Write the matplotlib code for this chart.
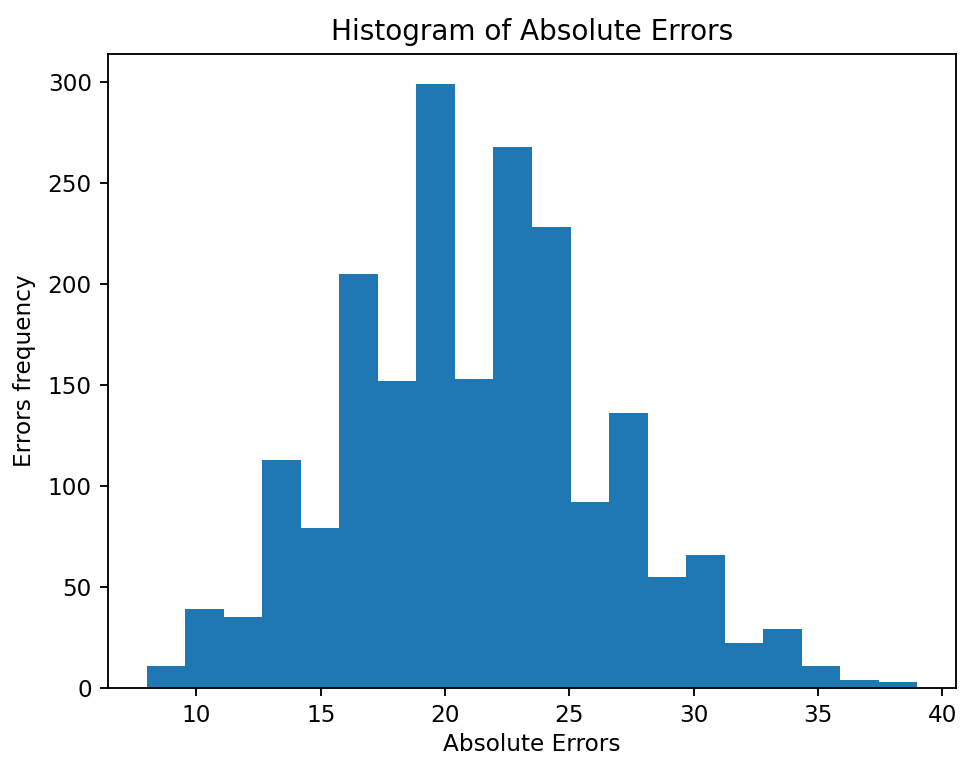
import matplotlib
matplotlib.use("Agg")
import matplotlib.pyplot as plt
import numpy as np

# bin edges of the histogram (20 bins from ~8 to ~39)
bin_lo = 8.0
bin_hi = 39.0
n_bins = 20

# counts per bin
counts = [11, 39, 35, 113, 79, 205, 152, 299, 153, 268,
          228, 92, 136, 55, 66, 22, 29, 11, 4, 3]

edges = np.linspace(bin_lo, bin_hi, n_bins + 1)

# reference looks like a default plot saved at ~1.67x scale
k = 1.67

fig = plt.figure(figsize=(9.61, 7.57), dpi=100)
ax = fig.add_axes([0.1124, 0.0915, 0.8824, 0.8372])

ax.hist(edges[:-1], bins=edges, weights=counts, color='#1f77b4')

ax.set_title('Histogram of Absolute Errors', fontsize=12 * k, pad=6 * k)
ax.set_xlabel('Absolute Errors', fontsize=10 * k, labelpad=2.5 * k)
ax.set_ylabel('Errors frequency', fontsize=10 * k, labelpad=5 * k)
ax.tick_params(labelsize=10 * k, length=3.5 * k, width=0.8 * k, pad=3.5 * k)
for s in ax.spines.values():
    s.set_linewidth(0.8 * k)

fig.savefig('out.png', dpi=100)
